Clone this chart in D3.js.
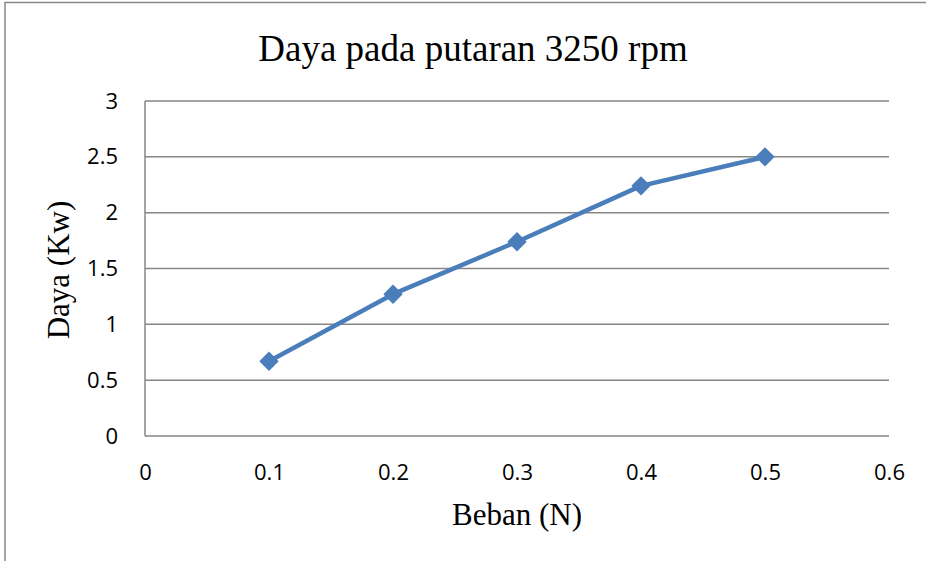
<!DOCTYPE html>
<html>
  <head>
    <script src="https://d3js.org/d3.v7.min.js"></script>
    <style>
      body { margin: 0; background: white; }
      svg text { fill: black; }
    </style>
  </head>
  <body>
    <script>
      const xValues = [0.1, 0.2, 0.3, 0.4, 0.5];
      const dayaValues = [0.67, 1.27, 1.74, 2.24, 2.5];
      const xTicks = [0, 0.1, 0.2, 0.3, 0.4, 0.5, 0.6];
      const yTicks = [0, 0.5, 1, 1.5, 2, 2.5, 3];

      const w = 926, h = 561;
      const plotLeft = 145, plotRight = 889, plotTop = 101, plotBottom = 436;

      const svg = d3.select('body').append('svg')
                    .attr('width', w)
                    .attr('height', h);

      // chart border
      svg.append('rect')
         .attr('x', 5).attr('y', 2.5)
         .attr('width', w + 10).attr('height', h + 10)
         .attr('fill', 'none')
         .attr('stroke', '#888')
         .attr('stroke-width', 1.5);

      const x = d3.scaleLinear().domain([0, 0.6]).range([plotLeft, plotRight]);
      const y = d3.scaleLinear().domain([0, 3]).range([plotBottom, plotTop]);

      // gridlines
      svg.append('g')
         .selectAll('line')
         .data(yTicks)
         .join('line')
         .attr('x1', plotLeft).attr('x2', plotRight)
         .attr('y1', d => y(d)).attr('y2', d => y(d))
         .attr('stroke', '#868686')
         .attr('stroke-width', 1.5);

      // vertical axis line
      svg.append('line')
         .attr('x1', plotLeft).attr('x2', plotLeft)
         .attr('y1', plotTop).attr('y2', plotBottom)
         .attr('stroke', '#868686')
         .attr('stroke-width', 1.5);

      const yAxis = d3.axisLeft(y).tickValues(yTicks).tickSize(0).tickPadding(27)
                      .tickFormat(d3.format('~g'));
      const gy = svg.append('g').attr('transform', `translate(${plotLeft},0)`).call(yAxis);
      gy.select('.domain').remove();
      gy.selectAll('text').style('font-family', '"Open Sans", sans-serif').style('font-size', '22px');

      const xAxis = d3.axisBottom(x).tickValues(xTicks).tickSize(0).tickPadding(28)
                      .tickFormat(d3.format('~g'));
      const gx = svg.append('g').attr('transform', `translate(0,${plotBottom})`).call(xAxis);
      gx.select('.domain').remove();
      gx.selectAll('text').style('font-family', '"Open Sans", sans-serif').style('font-size', '22px');

      // series line
      const data = xValues.map((v, i) => [v, dayaValues[i]]);
      svg.append('path')
         .datum(data)
         .attr('fill', 'none')
         .attr('stroke', '#4a7ebb')
         .attr('stroke-width', 4.5)
         .attr('stroke-linejoin', 'round')
         .attr('d', d3.line().x(d => x(d[0])).y(d => y(d[1])));

      svg.append('g')
         .selectAll('path')
         .data(data)
         .join('path')
         .attr('transform', d => `translate(${x(d[0])},${y(d[1])})`)
         .attr('d', d3.symbol(d3.symbolDiamond2, 240))
         .attr('fill', '#4a7ebb');

      // titles
      svg.append('text')
         .attr('x', 473).attr('y', 61)
         .attr('text-anchor', 'middle')
         .style('font-family', '"Liberation Serif", serif')
         .style('font-size', '37px')
         .text('Daya pada putaran 3250 rpm');

      svg.append('text')
         .attr('x', 517).attr('y', 525)
         .attr('text-anchor', 'middle')
         .style('font-family', '"Liberation Serif", serif')
         .style('font-size', '31px')
         .text('Beban (N)');

      svg.append('text')
         .attr('transform', 'translate(69,270) rotate(-90)')
         .attr('text-anchor', 'middle')
         .style('font-family', '"Liberation Serif", serif')
         .style('font-size', '31px')
         .text('Daya (Kw)');
    </script>
  </body>
</html>
